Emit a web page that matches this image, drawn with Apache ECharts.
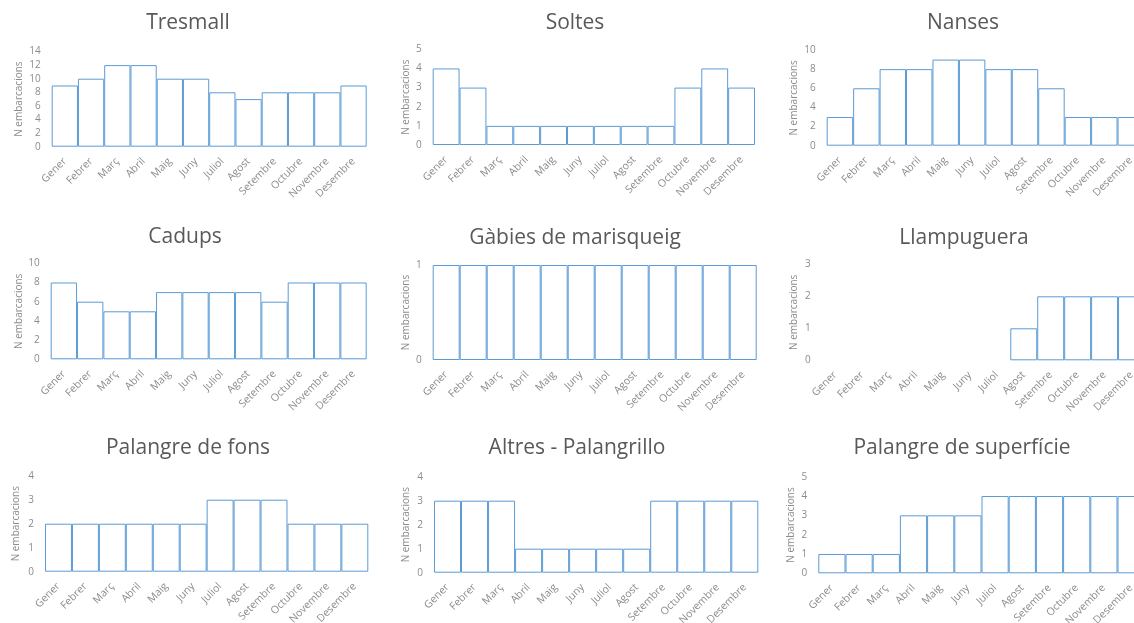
<!DOCTYPE html>
<html>
<head>
<meta charset="utf-8">
<script src="https://cdn.jsdelivr.net/npm/echarts@6/dist/echarts.min.js"></script>
<style>
html,body{margin:0;padding:0;background:#fff;overflow:hidden;}
#c{width:1160px;height:623px;}
</style>
</head>
<body>
<div id="c"></div>
<script>
const months = ['Gener','Febrer','Març','Abril','Maig','Juny','Juliol','Agost','Setembre','Octubre','Novembre','Desembre'];
const yAxisName = 'N embarcacions';

const titles = ['Tresmall','Soltes','Nanses','Cadups','Gàbies de marisqueig','Llampuguera','Palangre de fons','Altres - Palangrillo','Palangre de superfície'];

const tresmall = [9,10,12,12,10,10,8,7,8,8,8,9];
const soltes = [4,3,1,1,1,1,1,1,1,3,4,3];
const nanses = [3,6,8,8,9,9,8,8,6,3,3,3];
const cadups = [8,6,5,5,7,7,7,7,6,8,8,8];
const gabies = [1,1,1,1,1,1,1,1,1,1,1,1];
const llampuguera = [0,0,0,0,0,0,0,1,2,2,2,2];
const palangreFons = [2,2,2,2,2,2,3,3,3,2,2,2];
const altresPalangrillo = [3,3,3,1,1,1,1,1,3,3,3,3];
const palangreSuperficie = [1,1,1,3,3,3,4,4,4,4,4,4];

const seriesData = [tresmall, soltes, nanses, cadups, gabies, llampuguera, palangreFons, altresPalangrillo, palangreSuperficie];
const yMax = [14,5,10,10,1,3,4,4,5];
const yInterval = [2,1,2,2,1,1,1,1,1];

// layout (px): left, top, width, height, title center x, title top, nameGap
const layout = [
  [51.7, 51.5, 315, 95.2, 188, 13, 28],
  [432.7, 49.3, 322.3, 95.7, 575, 13, 22],
  [826.7, 50, 317.3, 95.7, 963, 13, 28],
  [50.7, 263.3, 316, 96, 185, 227, 27],
  [432.7, 265, 324, 95, 575, 228, 22],
  [821.7, 264.3, 323.3, 96, 964, 228, 23],
  [45, 475.7, 323.3, 96, 188, 438, 24],
  [434, 476.7, 324.3, 96, 577, 438, 23],
  [818.3, 476.7, 326.4, 96.6, 962, 438, 22]
];

const FONT = 'Open Sans';
const grid = [], xAxis = [], yAxis = [], series = [], title = [];
layout.forEach((L, i) => {
  grid.push({left: L[0], top: L[1], width: L[2], height: L[3], containLabel: false, outerBoundsMode: 'none'});
  title.push({
    text: titles[i], left: L[4], top: L[5], textAlign: 'center', padding: 0,
    textStyle: {fontFamily: FONT, fontSize: 21, fontWeight: 'normal', color: '#595959'}
  });
  xAxis.push({
    type: 'category', gridIndex: i, data: months,
    axisLine: {show: false}, axisTick: {show: false},
    axisLabel: {rotate: 45, interval: 0, margin: 13, fontFamily: FONT, fontSize: 10.5, color: '#8c8c8c'}
  });
  yAxis.push({
    type: 'value', gridIndex: i, min: 0, max: yMax[i], interval: yInterval[i],
    name: yAxisName, nameLocation: 'middle', nameGap: L[6],
    nameTextStyle: {fontFamily: FONT, fontSize: 10, color: '#8c8c8c'},
    axisLine: {show: false}, axisTick: {show: false}, splitLine: {show: false},
    axisLabel: {margin: 11, fontFamily: FONT, fontSize: 10, color: '#8c8c8c'}
  });
  series.push({
    type: 'bar', xAxisIndex: i, yAxisIndex: i,
    data: seriesData[i].map(v => v === 0 ? {value: v, itemStyle: {borderWidth: 0}} : v),
    barCategoryGap: '0%', silent: true,
    itemStyle: {color: '#ffffff', borderColor: '#5B9BD5', borderWidth: 1}
  });
});

const chart = echarts.init(document.getElementById('c'), null, {renderer: 'canvas'});
chart.setOption({animation: false, backgroundColor: '#fff', title, grid, xAxis, yAxis, series});
</script>
</body>
</html>
